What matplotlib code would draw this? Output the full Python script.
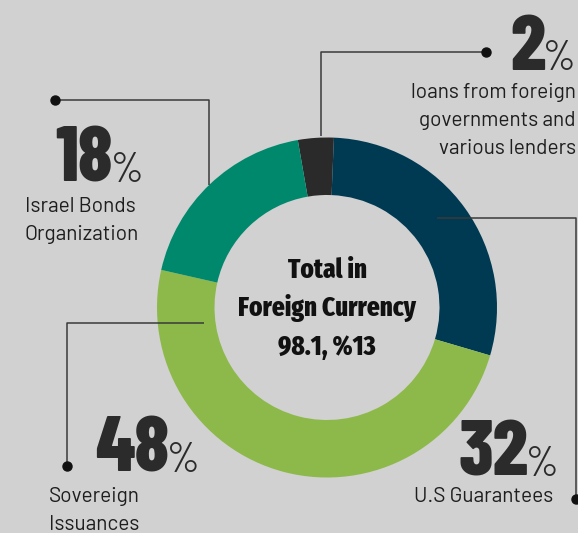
import matplotlib
matplotlib.use("Agg")
import matplotlib.pyplot as plt
from matplotlib import font_manager

# slice data (drawn arc shares, printed labels as shown)
arc_share = [3.4, 28.9, 49.0, 18.7]
pct_labels = ["2", "32", "48", "18"]
colors = ["#2a2a2a", "#003a52", "#8db94b", "#00886d"]
center_lines = ["Total in", "Foreign Currency", "98.1, %13"]
name_lines = [
    ["loans from foreign", "governments and", "various lenders"],
    ["U.S Guarantees"],
    ["Sovereign", "Issuances"],
    ["Israel Bonds", "Organization"],
]

BG = "#d1d1d1"
INK = "#2b2b2b"


def pick(names):
    for n in names:
        try:
            font_manager.findfont(n, fallback_to_default=False)
            return n
        except Exception:
            pass
    return "DejaVu Sans"


BIG = pick(["Barlow Condensed", "Oswald", "Roboto Condensed"])
MID = pick(["Fira Sans Extra Condensed", "Barlow Condensed", "Roboto Condensed"])
LABEL = pick(["Barlow", "Roboto"])

fig = plt.figure(figsize=(5.78, 5.33), dpi=100, facecolor=BG)
ax = fig.add_axes([0, 0, 1, 1])
ax.set_facecolor(BG)

# donut (y axis points down, so counterclock in data = clockwise on screen)
ax.pie(arc_share, colors=colors, center=(327, 307.5), radius=170,
       startangle=260.1, counterclock=True, frame=True,
       wedgeprops=dict(width=57.5, edgecolor="none", linewidth=0))
ax.set_xlim(0, 578)
ax.set_ylim(533, 0)
ax.set_aspect("equal")
ax.axis("off")

for i, s in enumerate(center_lines):
    ax.text(327, 270 + 38.5 * i, s, ha="center", va="center", fontsize=19.6,
            fontweight="heavy", family=MID, color="#111111")

# leader lines, dot at the free end
leaders = [
    ([486, 321, 321], [52, 52, 136], 0),
    ([437, 576, 576], [218, 218, 499], -1),
    ([204, 67, 67], [323, 323, 466], -1),
    ([55, 209, 209], [100, 100, 185], 0),
]
for xs, ys, k in leaders:
    ax.plot(xs, ys, color="#3a3a3a", lw=1.1, solid_capstyle="butt")
    ax.plot(xs[k], ys[k], "o", color="#111111", ms=6.5)

# big percentages, left edge and baseline
num_pos = [(510, 70), (458, 476), (95, 472), (55, 182)]
for (x, y), num in zip(num_pos, pct_labels):
    t = ax.text(x, y, num, ha="left", va="baseline", fontsize=56, fontweight="heavy",
                family=BIG, color=INK)
    fig.canvas.draw()
    bb = t.get_window_extent().transformed(ax.transData.inverted())
    ax.text(bb.x1 - 2, y, "%", ha="left", va="baseline", fontsize=30,
            fontweight="normal", family=BIG, color=INK)

# segment names: anchor x, first line y, alignment
name_pos = [(576, 93, "right"), (414, 497, "left"), (49, 497, "left"), (25, 206, "left")]
for (x, y, ha), lines in zip(name_pos, name_lines):
    for j, s in enumerate(lines):
        ax.text(x, y + 28 * j, s, ha=ha, va="center", fontsize=15, family=LABEL,
                color="#1e1e1e")

fig.savefig("out.png", dpi=100, facecolor=BG)
